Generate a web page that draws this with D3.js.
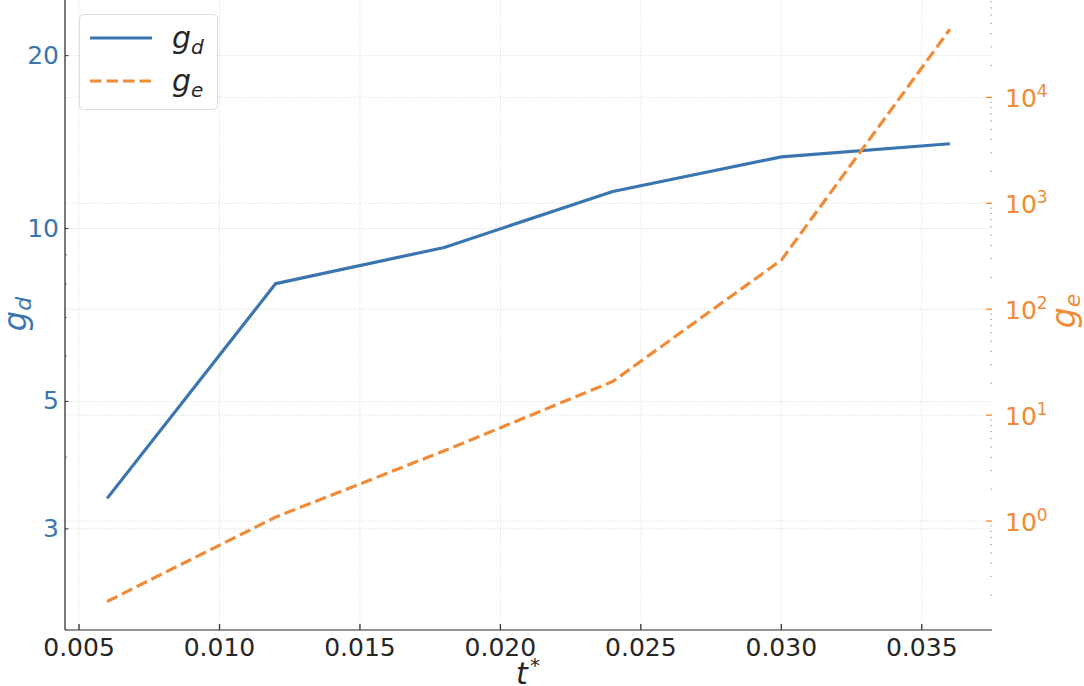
<!DOCTYPE html>
<html>
<head>
<meta charset="utf-8">
<script src="https://cdn.jsdelivr.net/npm/d3@7/dist/d3.min.js"></script>
<style>
  html, body { margin: 0; padding: 0; background: #ffffff; }
  svg { display: block; font-family: "DejaVu Sans", sans-serif; }
</style>
</head>
<body>
<svg id="chart" width="1084" height="686"></svg>
<script>
// ---- data ----
const tValues = [0.006, 0.012, 0.018, 0.024, 0.030, 0.036];
const gdValues = [3.39, 8.02, 9.27, 11.6, 13.33, 14.05];
const geValues = [0.174, 1.09, 4.6, 20.8, 291, 44000];

const xTicks = [0.005, 0.010, 0.015, 0.020, 0.025, 0.030, 0.035];
const xTickLabels = ["0.005", "0.010", "0.015", "0.020", "0.025", "0.030", "0.035"];
const gdTicks = [3, 5, 10, 20];
const gdTickLabels = ["3", "5", "10", "20"];
const gdMinorTicks = [2, 4, 6, 7, 8, 9];
const geTicks = [1, 10, 100, 1000, 10000];
const geTickExponents = ["0", "1", "2", "3", "4"];
const geMinorMultipliers = [2, 3, 4, 5, 6, 7, 8, 9];
const geMinorDecades = [0.1, 1, 10, 100, 1000, 10000];

const blue = "#3a75b0";
const orange = "#f08b38";
const textDark = "#262626";

// ---- layout ----
const L = 65, R = 992, T = 0, B = 630;

const svg = d3.select("#chart");

const x = d3.scaleLinear().domain([0.0045, 0.0375]).range([L, R]);
const yL = d3.scaleLog().domain([2, 25]).range([B, T]);
const yR = d3.scaleLog().domain([Math.pow(10, -1.029), Math.pow(10, 4.92)]).range([B, T]);

const geMinor = [];
geMinorDecades.forEach(d => geMinorMultipliers.forEach(m => {
  const v = d * m;
  const dom = yR.domain();
  if (v > dom[0] && v < dom[1]) geMinor.push(v);
}));

// ---- grid ----
const grid = svg.append("g").attr("stroke", "#dcdcdc").attr("stroke-width", 0.8)
  .attr("stroke-dasharray", "1.5,1.5").attr("fill", "none");
xTicks.forEach(t => grid.append("line").attr("x1", x(t)).attr("x2", x(t)).attr("y1", T).attr("y2", B));
gdTicks.forEach(t => grid.append("line").attr("x1", L).attr("x2", R).attr("y1", yL(t)).attr("y2", yL(t)));
geTicks.forEach(t => grid.append("line").attr("x1", L).attr("x2", R).attr("y1", yR(t)).attr("y2", yR(t)));

// ---- lines ----
const lineGd = d3.line().x((d, i) => x(tValues[i])).y(d => yL(d));
const lineGe = d3.line().x((d, i) => x(tValues[i])).y(d => yR(d));

svg.append("path").datum(gdValues).attr("d", lineGd)
  .attr("fill", "none").attr("stroke", blue).attr("stroke-width", 3.2)
  .attr("stroke-linejoin", "round").attr("stroke-linecap", "butt");

svg.append("path").datum(geValues).attr("d", lineGe)
  .attr("fill", "none").attr("stroke", orange).attr("stroke-width", 3.2)
  .attr("stroke-dasharray", "11.5,5").attr("stroke-linecap", "butt");

// ---- spines ----
svg.append("line").attr("x1", L).attr("x2", L).attr("y1", T).attr("y2", B)
  .attr("stroke", "#333333").attr("stroke-width", 1.3);
svg.append("line").attr("x1", L).attr("x2", R).attr("y1", B).attr("y2", B)
  .attr("stroke", "#707070").attr("stroke-width", 1.3);

// ---- x axis ----
const xa = svg.append("g");
xTicks.forEach((t, i) => {
  xa.append("line").attr("x1", x(t)).attr("x2", x(t)).attr("y1", B - 6).attr("y2", B)
    .attr("stroke", "#333").attr("stroke-width", 1.3);
  xa.append("text").attr("x", x(t)).attr("y", 656).attr("text-anchor", "middle")
    .attr("font-size", 25).attr("fill", textDark).text(xTickLabels[i]);
});

// ---- left axis ----
const la = svg.append("g");
gdTicks.forEach((t, i) => {
  la.append("line").attr("x1", L).attr("x2", L + 3.5).attr("y1", yL(t)).attr("y2", yL(t))
    .attr("stroke", "#333").attr("stroke-width", 1);
  la.append("text").attr("x", 59).attr("y", yL(t) + 8).attr("text-anchor", "end")
    .attr("font-size", 25).attr("fill", blue).text(gdTickLabels[i]);
});
gdMinorTicks.forEach(t => {
  la.append("line").attr("x1", L).attr("x2", L + 2).attr("y1", yL(t)).attr("y2", yL(t))
    .attr("stroke", "#555").attr("stroke-width", 0.8);
});

// ---- right axis ----
const ra = svg.append("g");
geMinor.forEach(t => {
  ra.append("line").attr("x1", R - 2).attr("x2", R).attr("y1", yR(t)).attr("y2", yR(t))
    .attr("stroke", "#aaaaaa").attr("stroke-width", 0.9);
});
geTicks.forEach((t, i) => {
  ra.append("line").attr("x1", R - 6).attr("x2", R).attr("y1", yR(t)).attr("y2", yR(t))
    .attr("stroke", orange).attr("stroke-width", 1.3);
  const tx = ra.append("text").attr("x", 1005).attr("y", yR(t) + 9.5)
    .attr("font-size", 25).attr("fill", orange);
  tx.append("tspan").text("10");
  tx.append("tspan").attr("font-size", 17).attr("dy", -9.5).text(geTickExponents[i]);
});

// ---- axis labels ----
const gdLabel = svg.append("text").attr("transform", "translate(26,314) rotate(-90)")
  .attr("text-anchor", "middle").attr("font-size", 32).attr("fill", blue).attr("font-style", "italic");
gdLabel.append("tspan").text("g");
gdLabel.append("tspan").attr("font-size", 22).attr("dy", 5).text("d");

const geLabel = svg.append("text").attr("transform", "translate(1075,311) rotate(-90)")
  .attr("text-anchor", "middle").attr("font-size", 33).attr("fill", orange).attr("font-style", "italic");
geLabel.append("tspan").text("g");
geLabel.append("tspan").attr("font-size", 22).attr("dy", 5).text("e");

const tLabel = svg.append("text").attr("x", 528).attr("y", 684)
  .attr("text-anchor", "middle").attr("font-size", 30).attr("fill", textDark);
tLabel.append("tspan").attr("font-style", "italic").text("t");
tLabel.append("tspan").attr("font-size", 20).attr("dy", -12).attr("dx", 2).text("*");

// ---- legend ----
const lg = svg.append("g");
lg.append("rect").attr("x", 79.5).attr("y", 14.5).attr("width", 138).attr("height", 95)
  .attr("rx", 4).attr("fill", "#ffffff").attr("fill-opacity", 0.85)
  .attr("stroke", "#dddddd").attr("stroke-width", 1);
const legendItems = [
  { sub: "d", color: blue, dash: null, y: 38 },
  { sub: "e", color: orange, dash: "11.5,5", y: 81 }
];
legendItems.forEach(it => {
  const ln = lg.append("line").attr("x1", 90).attr("x2", 152).attr("y1", it.y).attr("y2", it.y)
    .attr("stroke", it.color).attr("stroke-width", 3.2);
  if (it.dash) ln.attr("stroke-dasharray", it.dash);
  const tx = lg.append("text").attr("x", 172).attr("y", it.y + 10)
    .attr("font-size", 30).attr("fill", textDark).attr("font-style", "italic");
  tx.append("tspan").text("g");
  tx.append("tspan").attr("font-size", 20).attr("dy", 6).text(it.sub);
});
</script>
</body>
</html>
